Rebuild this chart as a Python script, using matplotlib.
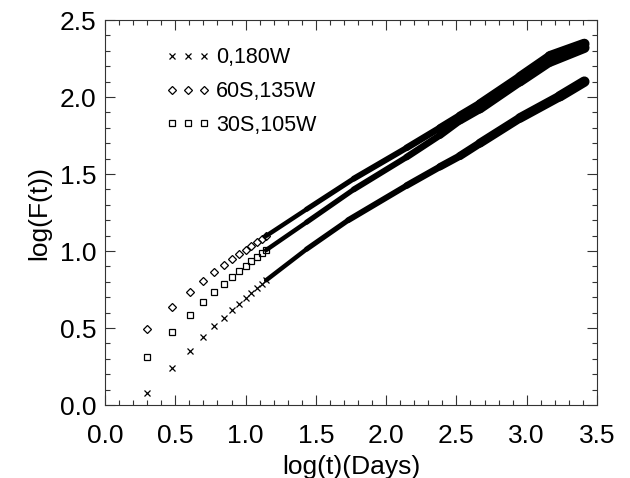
import numpy as np
import matplotlib.pyplot as plt
from matplotlib.collections import LineCollection
from matplotlib.ticker import MultipleLocator

plt.rcParams['font.family'] = ['Liberation Sans', 'DejaVu Sans']

# early days: one marker per day, still separated
t_days = [2, 3, 4, 5, 6, 7, 8, 9, 10, 11, 12, 13, 14]
f_180w = [0.078, 0.240, 0.350, 0.440, 0.510, 0.567, 0.615, 0.657, 0.696, 0.728, 0.757, 0.786, 0.810]
f_135w = [0.492, 0.636, 0.733, 0.806, 0.861, 0.909, 0.948, 0.982, 1.008, 1.034, 1.060, 1.079, 1.098]
f_105w = [0.315, 0.476, 0.585, 0.666, 0.731, 0.785, 0.829, 0.868, 0.901, 0.932, 0.959, 0.989, 1.006]

# later days: markers merge into a band, read along its middle
band_x_180w = [1.146, 1.434, 1.73, 2.146, 2.383, 2.525, 2.667, 2.952, 3.236, 3.41]
band_y_180w = [0.810, 1.012, 1.200, 1.425, 1.547, 1.617, 1.700, 1.864, 2.005, 2.100]
band_x_135w = [1.146, 1.434, 1.77, 2.146, 2.383, 2.525, 2.667, 2.952, 3.165, 3.41]
band_y_135w = [1.098, 1.271, 1.470, 1.670, 1.800, 1.879, 1.956, 2.131, 2.265, 2.345]
band_x_105w = [1.146, 1.434, 1.77, 2.146, 2.383, 2.525, 2.667, 2.952, 3.165, 3.41]
band_y_105w = [1.006, 1.187, 1.400, 1.610, 1.752, 1.848, 1.922, 2.100, 2.230, 2.320]

labels = ['0,180W', '60S,135W', '30S,105W']
markers = ['x', 'D', 's']

fig = plt.figure(figsize=(6.3, 4.78), dpi=100)
ax = fig.add_axes([0.1667, 0.1527, 0.7809, 0.8054])

logt = np.log10(t_days)
early = [f_180w, f_135w, f_105w]
bands = [(band_x_180w, band_y_180w), (band_x_135w, band_y_135w), (band_x_105w, band_y_105w)]

for f, m, lab in zip(early, markers, labels):
    ax.plot(logt, f, linestyle='none', marker=m, ms=4.5, mew=0.9,
            mfc='none', color='k', label=lab)

for bx, by in bands:
    pts = np.column_stack([bx, by])
    segs = np.stack([pts[:-1], pts[1:]], axis=1)
    lc = LineCollection(segs, colors='k', linewidths=np.linspace(3.2, 7.5, len(segs)),
                        capstyle='round', joinstyle='round')
    ax.add_collection(lc)

ax.set_xlim(0, 3.5)
ax.set_ylim(0, 2.5)
ax.xaxis.set_major_locator(MultipleLocator(0.5))
ax.xaxis.set_minor_locator(MultipleLocator(0.1))
ax.yaxis.set_major_locator(MultipleLocator(0.5))
ax.yaxis.set_minor_locator(MultipleLocator(0.1))
ax.xaxis.set_major_formatter(plt.FormatStrFormatter('%.1f'))
ax.yaxis.set_major_formatter(plt.FormatStrFormatter('%.1f'))
ax.tick_params(which='both', direction='in', top=True, right=True, width=0.8, color='#333333')
ax.tick_params(which='major', length=7.2, labelsize=19)
ax.tick_params(which='minor', length=3.6)
ax.tick_params(axis='x', which='major', pad=14)
ax.tick_params(axis='y', which='major', pad=6)
for s in ax.spines.values():
    s.set_linewidth(0.8)
    s.set_color('#333333')

ax.set_xlabel('log(t)(Days)', fontsize=19, labelpad=5)
ax.set_ylabel('log(F(t))', fontsize=19, labelpad=6)

ax.legend(loc='upper left', bbox_to_anchor=(0.123, 0.929), frameon=False,
          numpoints=3, handlelength=2.1, handletextpad=0.26, labelspacing=0.59,
          borderpad=0, borderaxespad=0, fontsize=15.5)

fig.savefig('out.png', dpi=100)
